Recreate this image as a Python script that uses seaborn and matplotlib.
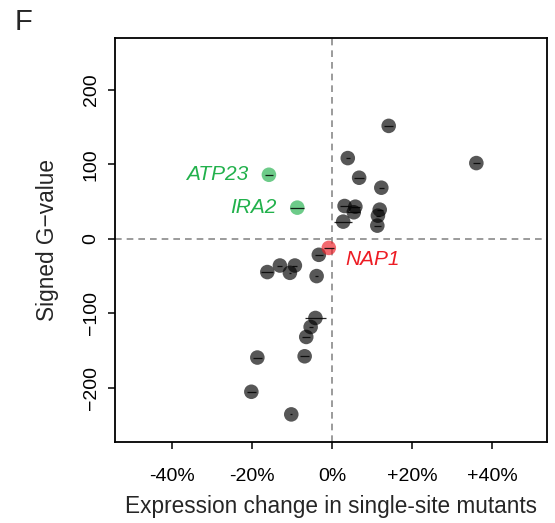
import numpy as np
import pandas as pd
import matplotlib
matplotlib.use("Agg")
import matplotlib.pyplot as plt
import seaborn as sns

# ---- data ----
expr_change = [14.15, 36.1, 3.9, 6.75, 12.3, 3.1, 5.8, 5.4, 11.9, 11.45, 11.3, 2.75,
               -3.35, -13.1, -9.35, -16.25, -10.6, -3.9, -4.2, -5.4, -6.5, -18.75,
               -6.9, -20.25, -10.25,
               -15.85, -8.75, -0.85]
g_value = [151.9, 101.9, 108.6, 82.2, 68.8, 44.2, 43.3, 35.8, 39.3, 31.2, 17.8, 23.2,
           -21.4, -35.8, -35.8, -44.6, -45.6, -50.0, -106.3, -118.4, -131.8, -159.5,
           -157.8, -205.5, -235.9,
           86.2, 42.0, -12.1]
expr_err = [1.2, 0.9, 0.5, 1.2, 0.6, 1.2, 1.2, 1.6, 0.8, 0.6, 0.8, 2.3,
            1.0, 0.6, 0.6, 1.5, 0.3, 0.3, 2.7, 0.5, 1.0, 1.2,
            1.2, 1.2, 0.3,
            1.0, 1.75, 1.2]
gene = [""] * 25 + ["ATP23", "IRA2", "NAP1"]
group = ["other"] * 25 + ["up", "up", "down"]

x_ticks = [-40, -20, 0, 20, 40]
x_tick_labels = ["-40%", "-20%", "0%", "+20%", "+40%"]
y_ticks = [-200, -100, 0, 100, 200]

df = pd.DataFrame({"x": expr_change, "y": g_value, "err": expr_err,
                   "gene": gene, "group": group})

palette = {"other": "#000000", "up": "#22b14c", "down": "#ed1c24"}
label_colors = {"up": "#22b14c", "down": "#ed1c24"}

# ---- style ----
sns.set_theme(style="white")
plt.rcParams["font.family"] = ["Liberation Sans", "DejaVu Sans"]

fig = plt.figure(figsize=(5.55, 5.23), dpi=100)
ax = fig.add_axes([0.2072, 0.1549, 0.7784, 0.7724])

ax.axhline(0, color="#8a8a8a", lw=1.2, ls=(0, (4, 3)), zorder=1)
ax.axvline(0, color="#8a8a8a", lw=1.2, ls=(0, (4, 3)), zorder=1)

sns.scatterplot(data=df, x="x", y="y", hue="group", palette=palette,
                s=110, alpha=0.66, edgecolor="none", legend=False, ax=ax, zorder=3)
ax.errorbar(df["x"], df["y"], xerr=df["err"], fmt="none", ecolor="black",
            elinewidth=0.9, capsize=0, zorder=4, alpha=0.85)

for _, r in df[df["gene"] != ""].iterrows():
    if r["group"] == "up":
        ax.annotate(r["gene"], (r["x"], r["y"]), xytext=(-15, 0),
                    textcoords="offset points", ha="right", va="center",
                    color=label_colors["up"], fontsize=15, style="italic")
    else:
        ax.annotate(r["gene"], (r["x"], r["y"]), xytext=(12, -8),
                    textcoords="offset points", ha="left", va="center",
                    color=label_colors["down"], fontsize=15, style="italic")

ax.set_xlim(-54.4, 53.8)
ax.set_ylim(-273, 270)
ax.set_xticks(x_ticks)
ax.set_xticklabels(x_tick_labels)
ax.set_yticks(y_ticks)
ax.set_yticklabels([str(v).replace("-", "\u2212") for v in y_ticks],
                   rotation=90, va="center")

for sp in ax.spines.values():
    sp.set_visible(True)
    sp.set_color("black")
    sp.set_linewidth(1.3)

ax.tick_params(axis="both", which="major", length=5, width=1.1, color="black",
               labelsize=14, labelcolor="black", bottom=True, left=True)
ax.tick_params(axis="x", pad=14)
ax.tick_params(axis="y", pad=6)

ax.set_xlabel("Expression change in single-site mutants", fontsize=16.3, labelpad=7)
ax.set_ylabel("Signed G\u2212value", fontsize=16.3, labelpad=17)

fig.text(0.027, 0.958, "F", fontsize=21, ha="left", va="center")

fig.savefig("out.png", dpi=100)
